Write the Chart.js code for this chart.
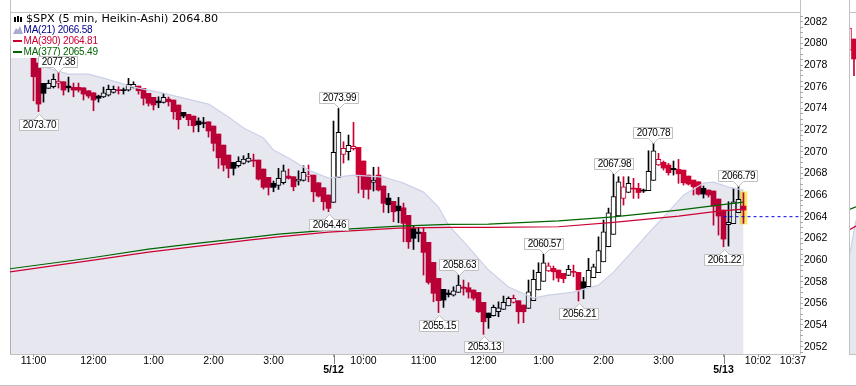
<!DOCTYPE html>
<html>
<head>
<meta charset="utf-8">
<style>
html, body { margin: 0; padding: 0; background: #fff; overflow: hidden; }
#wrap { position: relative; width: 856px; height: 386px; }
canvas { position: absolute; top: 0; }
</style>
<script src="https://cdn.jsdelivr.net/npm/chart.js@4"></script>
</head>
<body>
<div id="wrap">
<canvas id="mainChart" width="856" height="386" style="left:0"></canvas>
<canvas id="nextChart" width="6" height="386" style="left:850px"></canvas>
</div>
<script>
// r = red filled, h = red hollow, b = black filled, w = white hollow
const candleKinds = (
    'rrbwwhrbrr' + 'rrrbwwwrbw' + 'wrrrrbwrrr' + 'brrbbrrrrr' + 'bwwwrrrrbw' +
    'wrrwwhrrrr' + 'wwhwhrrrwr' + 'rbrbrrbbrr' + 'rrbbwwrrrr' + 'rbwwwwhrrw' +
    'wwwhrrrwrr' + 'bwwwwwwwhw' + 'rrbwwhrrbr' + 'rrrrbrrrrw' + 'wwr'
).split('');

const bodyTop = [
    2079.38,2078.19,2076.31,2076.31,2076.68,2076.52,2076.46,2076.06,2075.94,2075.94,
    2075.90,2075.63,2075.44,2075.14,2075.44,2075.76,2075.76,2075.72,2075.72,2076.22,
    2076.22,2076.06,2075.85,2075.39,2075.02,2074.68,2075.02,2074.86,2074.77,2074.31,
    2073.63,2073.45,2073.29,2072.83,2072.69,2072.76,2072.37,2071.63,2070.61,2069.69,
    2069.02,2069.11,2069.32,2069.41,2069.23,2069.23,2068.40,2067.63,2067.08,2067.54,
    2068.24,2067.75,2067.69,2067.45,2068.09,2067.87,2067.84,2067.13,2066.67,2066.00,
    2069.94,2071.79,2070.31,2070.59,2070.49,2070.40,2069.14,2067.84,2067.38,2067.84,
    2066.83,2065.72,2065.41,2064.98,2064.82,2064.12,2062.90,2062.58,2062.55,2061.63,
    2059.78,2058.30,2057.29,2056.95,2057.16,2057.68,2057.50,2057.44,2057.23,2057.00,
    2056.09,2055.10,2055.63,2055.59,2056.09,2056.46,2056.46,2056.24,2055.84,2057.07,
    2058.21,2058.86,2059.74,2059.47,2059.23,2059.07,2058.77,2059.14,2058.95,2058.86,
    2057.99,2059.04,2059.38,2060.87,2062.61,2064.36,2065.86,2067.22,2066.76,2067.08,
    2066.64,2066.62,2066.46,2068.18,2070.09,2069.29,2069.02,2068.77,2068.46,2068.37,
    2068.30,2067.75,2067.38,2067.22,2066.62,2066.46,2066.37,2065.63,2064.61,2063.48,
    2065.38,2065.60,2064.98
];
const bodyBottom = [
    2076.92,2074.40,2075.39,2075.85,2076.00,2076.31,2075.69,2075.90,2075.69,2075.69,
    2075.32,2075.14,2074.77,2074.93,2075.07,2075.23,2075.48,2075.64,2075.64,2075.69,
    2075.94,2075.63,2074.93,2074.47,2074.31,2074.52,2074.56,2074.61,2073.69,2072.95,
    2073.29,2072.95,2072.40,2072.49,2072.60,2071.91,2070.77,2069.44,2068.77,2068.46,
    2068.46,2068.70,2068.92,2069.11,2069.14,2067.47,2066.71,2066.71,2066.71,2066.89,
    2067.13,2067.54,2066.76,2067.29,2067.35,2067.72,2066.30,2065.90,2065.38,2064.77,
    2065.32,2067.63,2069.75,2070.00,2070.27,2067.75,2066.52,2066.52,2067.17,2066.46,
    2065.23,2065.10,2064.45,2064.55,2063.38,2061.68,2062.00,2062.44,2060.70,2057.93,
    2056.92,2056.24,2056.30,2056.81,2056.76,2057.01,2057.38,2057.04,2056.48,2055.22,
    2054.30,2054.67,2054.85,2055.22,2055.44,2055.77,2056.09,2055.22,2055.22,2055.53,
    2056.24,2057.23,2058.03,2058.98,2058.91,2058.33,2058.27,2058.58,2058.86,2057.23,
    2057.38,2057.53,2058.36,2058.84,2059.83,2061.22,2062.37,2064.07,2065.69,2066.25,
    2066.55,2066.23,2066.37,2066.41,2067.35,2068.77,2068.49,2068.06,2068.33,2067.96,
    2067.13,2067.01,2066.76,2066.09,2066.09,2066.00,2064.98,2064.06,2061.93,2063.26,
    2063.35,2064.36,2064.61
];
const wickHigh = [
    2079.85,2078.19,2076.31,2076.61,2077.17,2077.38,2076.46,2076.89,2076.34,2076.34,
    2075.90,2075.63,2075.44,2075.23,2075.97,2076.15,2076.06,2076.00,2075.88,2076.77,
    2076.46,2076.06,2075.85,2075.39,2075.02,2075.07,2075.39,2075.05,2074.77,2074.31,
    2073.63,2073.45,2073.29,2073.13,2073.17,2072.76,2072.37,2071.63,2070.61,2069.69,
    2069.02,2069.53,2069.63,2069.85,2069.78,2069.23,2068.40,2067.63,2067.29,2068.46,
    2068.77,2068.40,2067.69,2068.24,2068.70,2068.77,2067.84,2067.13,2066.67,2066.00,
    2072.83,2073.99,2070.92,2071.54,2072.71,2070.40,2069.14,2067.84,2068.56,2068.58,
    2066.83,2066.15,2065.41,2065.78,2065.26,2064.12,2063.13,2063.01,2063.01,2061.63,
    2059.78,2058.30,2057.29,2057.23,2057.53,2058.63,2058.15,2057.90,2057.23,2057.00,
    2056.09,2055.10,2055.84,2056.14,2056.67,2056.60,2056.76,2056.24,2055.84,2058.15,
    2059.07,2059.74,2060.57,2059.74,2059.44,2059.07,2058.77,2059.51,2059.53,2058.86,
    2058.40,2060.15,2059.62,2062.14,2063.69,2064.79,2067.98,2067.69,2067.69,2067.69,
    2067.54,2067.08,2066.55,2070.09,2070.78,2069.85,2069.14,2068.92,2069.14,2069.29,
    2068.30,2067.75,2067.38,2067.22,2066.83,2066.46,2066.37,2065.63,2064.61,2065.38,
    2066.62,2066.79,2066.21
];
const wickLow = [
    2074.70,2073.70,2074.58,2075.85,2075.88,2075.88,2075.23,2075.51,2075.07,2075.51,
    2074.77,2074.95,2073.78,2074.58,2075.00,2075.14,2075.41,2075.32,2075.32,2075.60,
    2075.88,2075.32,2074.31,2074.22,2073.85,2074.06,2074.49,2074.22,2073.01,2072.09,
    2073.13,2072.40,2071.81,2071.84,2072.21,2071.35,2070.06,2068.46,2068.21,2067.59,
    2067.84,2068.58,2068.86,2069.02,2068.61,2067.38,2066.55,2066.00,2066.30,2066.52,
    2067.01,2067.47,2066.39,2066.92,2067.29,2067.22,2065.38,2065.81,2064.61,2064.46,
    2065.32,2067.63,2068.95,2069.23,2070.15,2066.18,2065.75,2065.63,2066.37,2066.37,
    2064.40,2064.36,2063.53,2063.44,2061.68,2061.07,2060.97,2061.68,2058.61,2057.78,
    2056.14,2055.15,2055.62,2056.58,2056.67,2057.00,2056.76,2056.48,2056.30,2055.15,
    2053.13,2053.69,2054.82,2054.76,2055.44,2055.77,2056.02,2054.15,2054.21,2055.53,
    2056.24,2057.23,2058.03,2058.93,2058.15,2057.99,2057.90,2058.56,2058.45,2056.21,
    2056.42,2057.53,2058.36,2058.84,2059.83,2061.22,2062.37,2064.07,2065.07,2066.21,
    2065.69,2065.69,2066.23,2066.41,2067.35,2068.72,2068.30,2067.84,2067.84,2067.08,
    2066.92,2066.92,2066.00,2066.00,2065.72,2065.81,2063.22,2062.30,2061.22,2061.29,
    2063.35,2064.36,2063.38
];

const ma21Bars = [-4.7,0,2,3.5,7,11,14,20,26,30,35,39,42,46,48,51,55,59,64,70,74,78,81,83,87,91,95,100,103,108,113,116,120,123,126,130,134,136,139,142];
const ma21Values = [
    2079.94,2079.11,2077.91,2077.63,2077.17,2077.17,2076.80,2075.97,2075.41,2074.95,
    2074.40,2073.20,2072.18,2071.26,2070.15,2069.41,2068.30,2067.56,2067.84,2067.66,
    2067.10,2066.27,2064.89,2063.22,2061.19,2059.07,2057.50,2056.48,2056.76,2057.04,
    2057.68,2058.88,2060.91,2062.48,2063.96,2065.99,2067.10,2067.19,2066.73,2066.45
];
const maLongBars = [-4.7,7.3,12,23,33,43,49,59,73,83,91,105,116,129,137,142];
const ma377Values = [2059.19,2059.93,2060.23,2061.01,2061.56,2062.07,2062.39,2062.76,2063.13,2063.29,2063.32,2063.62,2063.99,2064.61,2065.07,2065.35];
const ma390Values = [2058.91,2059.69,2059.99,2060.73,2061.28,2061.84,2062.14,2062.58,2062.95,2063.01,2063.01,2063.07,2063.47,2064.05,2064.52,2064.70];

const lastPriceBars = [138, 153.3];
const lastPriceValues = [2064, 2064];
const highlightBar = 142;
const highlightRange = [2063.32, 2066.30];

const calloutBars = [1, 5, 59, 61, 81, 85, 90, 102, 109, 116, 124, 138, 141];
const calloutValues = [2073.70, 2077.38, 2064.46, 2073.99, 2055.15, 2058.63, 2053.13, 2060.57, 2056.21, 2067.98, 2070.78, 2061.22, 2066.79];
const calloutSides = ['below', 'above', 'below', 'above', 'below', 'above', 'below', 'above', 'below', 'above', 'above', 'below', 'above'];

const xTickBars = [0, 12, 24, 36, 48, 60, 66, 78, 90, 102, 114, 126, 138, 144.9, 151.9];
const xTickLabels = ['11:00', '12:00', '1:00', '2:00', '3:00', ['', '5/12'], '10:00', '11:00', '12:00', '1:00', '2:00', '3:00', ['', '5/13'], '10:02', '10:37'];
const yMin = 2051.32;
const yMax = 2082.9;
const yStep = 0.5;

// the sliver of the next panel at the right edge
const nextKinds = ['h', 'r'];
const nextBodyTop = [2081.42, 2080.40];
const nextBodyBottom = [2079.38, 2078.56];
const nextWickHigh = [2081.42, 2080.40];
const nextWickLow = [2079.38, 2077.01];
const nextMaBars = [0.2, 1.4];
const nextMa21 = [2060.64, 2063.69];
const nextMa377 = [2064.70, 2064.91];
const nextMa390 = [2062.83, 2063.13];

const titleText = '$SPX (5 min, Heikin-Ashi) 2064.80';
const legendLabels = ['MA(21) 2066.58', 'MA(390) 2064.81', 'MA(377) 2065.49'];

const RED = '#cc0033';
const GREEN = '#006400';
const NAVY = '#00008b';
const FRAME = '#c2c2c2';
const AREA_FILL = 'rgba(0,0,96,0.094)';
const AREA_LINE = '#ccd0e8';
const TEXT_FONT = '"Liberation Sans", Arial, sans-serif';
const kindFill = { r: RED, h: '#ffffff', b: '#000000', w: '#ffffff' };
const kindLine = { r: RED, h: RED, b: '#000000', w: '#000000' };

function floatingBars(tops, bottoms) {
    return tops.map((top, i) => ({ x: i, y: [bottoms[i], top] }));
}

function getCandleDatasets(kinds, tops, bottoms, highs, lows) {
    return [
        {
            data: floatingBars(highs, lows),
            order: 8,
            grouped: false,
            barThickness: 1,
            backgroundColor: kinds.map((k) => kindLine[k]),
        },
        {
            data: floatingBars(tops, bottoms),
            order: 7,
            grouped: false,
            barThickness: 5,
            backgroundColor: kinds.map((k) => kindFill[k]),
            borderColor: kinds.map((k) => kindLine[k]),
            borderWidth: kinds.map((k) => (k === 'h' || k === 'w') ? 1 : 0),
            borderSkipped: false,
        },
    ];
}

function getLine(bars, values, color, order) {
    return {
        type: 'line',
        data: bars.map((bar, i) => ({ x: bar, y: values[i] })),
        borderColor: color,
        borderWidth: 1.2,
        pointRadius: 0,
        tension: 0,
        fill: false,
        order: order,
    };
}

function getArea(bars, values) {
    const area = getLine(bars, values, AREA_LINE, 3);
    area.fill = 'start';
    area.backgroundColor = AREA_FILL;
    return area;
}

function drawFrame(chart) {
    const ctx = chart.ctx;
    ctx.save();
    ctx.strokeStyle = FRAME;
    ctx.lineWidth = 1;
    const segments = [
        [10.5, 0, 10.5, 354.5], [10, 12.5, 800, 12.5], [800.5, 0, 800.5, 354.5], [10, 354.5, 800, 354.5],
        [849.5, 0, 849.5, 354.5], [849, 12.5, 856, 12.5], [849, 354.5, 856, 354.5], [0, 385.5, 856, 385.5],
    ];
    segments.forEach((s) => {
        ctx.beginPath();
        ctx.moveTo(s[0], s[1]);
        ctx.lineTo(s[2], s[3]);
        ctx.stroke();
    });
    ctx.restore();
}

function drawCallout(ctx, x, y, text, side) {
    ctx.font = '10px ' + TEXT_FONT;
    ctx.letterSpacing = '-0.4px';
    const w = Math.round(ctx.measureText(text).width) + 6;
    const h = 11;
    const px = Math.round(x) + 0.5;
    const left = px - Math.round(w / 2);
    const tip = Math.round(side === 'above' ? y : y + 2) + 0.5;
    const boxY = side === 'above' ? tip - 5 - h : tip + 5;
    const edge = side === 'above' ? boxY + h : boxY;
    ctx.beginPath();
    ctx.moveTo(left, boxY);
    ctx.lineTo(left + w, boxY);
    ctx.lineTo(left + w, boxY + h);
    if (side === 'above') {
        ctx.lineTo(px + 5, edge);
        ctx.lineTo(px, tip);
        ctx.lineTo(px - 5, edge);
    }
    ctx.lineTo(left, boxY + h);
    ctx.lineTo(left, boxY);
    if (side === 'below') {
        ctx.moveTo(px - 5, edge);
        ctx.lineTo(px, tip);
        ctx.lineTo(px + 5, edge);
    }
    ctx.fillStyle = '#ffffff';
    ctx.fill();
    ctx.strokeStyle = '#c0c0c0';
    ctx.lineWidth = 1;
    ctx.stroke();
    if (side === 'below') {
        ctx.beginPath();
        ctx.moveTo(px - 4, edge);
        ctx.lineTo(px + 4, edge);
        ctx.strokeStyle = '#ffffff';
        ctx.stroke();
    }
    ctx.fillStyle = '#000000';
    ctx.textAlign = 'center';
    ctx.textBaseline = 'middle';
    ctx.fillText(text, px, boxY + h / 2 + 0.5);
    ctx.letterSpacing = '0px';
}

function drawLegend(ctx) {
    ctx.fillStyle = '#ffffff';
    ctx.fillRect(11, 13, 90, 45);
    ctx.textAlign = 'left';
    ctx.textBaseline = 'middle';
    ctx.fillStyle = '#000000';
    ctx.font = '11.2px "DejaVu Sans", sans-serif';
    ctx.fillText(titleText, 26, 19.5);
    ctx.font = '10px ' + TEXT_FONT;
    ctx.letterSpacing = '-0.2px';
    [NAVY, RED, GREEN].forEach((color, i) => {
        ctx.fillStyle = color;
        ctx.fillText(legendLabels[i], 23.5, 30.5 + i * 11);
    });
    ctx.letterSpacing = '0px';
    // little candle icon
    ctx.fillStyle = '#000000';
    [[14, 17, 2, 5], [17, 16, 2, 6], [20, 17, 2, 5]].forEach((r) => ctx.fillRect(r[0], r[1], r[2], r[3]));
    // mountain icon
    ctx.fillStyle = '#a9acd0';
    ctx.beginPath();
    ctx.moveTo(13, 34);
    ctx.lineTo(16, 28);
    ctx.lineTo(18, 30);
    ctx.lineTo(20, 26);
    ctx.lineTo(23, 34);
    ctx.fill();
    ctx.fillStyle = RED;
    ctx.fillRect(13, 40, 9, 2);
    ctx.fillStyle = GREEN;
    ctx.fillRect(13, 51, 9, 2);
}

const mainPlugin = {
    id: 'mainPlugin',
    beforeDraw(chart) {
        drawFrame(chart);
    },
    afterDatasetsDraw(chart) {
        const ctx = chart.ctx;
        ctx.save();
        drawLegend(ctx);
        calloutBars.forEach((bar, i) => {
            drawCallout(ctx, chart.scales.x.getPixelForValue(bar), chart.scales.y.getPixelForValue(calloutValues[i]), calloutValues[i].toFixed(2), calloutSides[i]);
        });
        ctx.restore();
    },
    afterDraw(chart) {
        // date ticks reach down further than the time ticks
        const ctx = chart.ctx;
        ctx.save();
        ctx.strokeStyle = '#808080';
        xTickBars.forEach((bar, i) => {
            if (Array.isArray(xTickLabels[i])) {
                const px = Math.round(chart.scales.x.getPixelForValue(bar)) + 0.5;
                ctx.beginPath();
                ctx.moveTo(px, 355);
                ctx.lineTo(px, 364);
                ctx.stroke();
            }
        });
        ctx.restore();
    },
};

function getYTicks() {
    const ticks = [];
    for (let v = 2051.5; v <= yMax; v += yStep) {
        ticks.push({ value: v });
    }
    return ticks;
}

function getMainConfig() {
    const highlight = {
        data: [{ x: highlightBar, y: highlightRange }],
        order: 9,
        grouped: false,
        barThickness: 7,
        backgroundColor: '#f8ec66',
    };
    const blueLine = getLine(lastPriceBars, lastPriceValues, '#0000e6', 0);
    blueLine.borderDash = [3, 3];
    blueLine.borderWidth = 1;
    return {
        type: 'bar',
        data: {
            datasets: [
                highlight,
                ...getCandleDatasets(candleKinds, bodyTop, bodyBottom, wickHigh, wickLow),
                getArea(ma21Bars, ma21Values),
                getLine(maLongBars, ma390Values, RED, 2),
                getLine(maLongBars, ma377Values, GREEN, 1),
                blueLine,
            ],
        },
        plugins: [mainPlugin],
        options: {
            responsive: false,
            animation: false,
            layout: { padding: { left: 10, top: 12, right: 0, bottom: 0 } },
            plugins: { legend: { display: false }, tooltip: { enabled: false } },
            scales: {
                x: {
                    type: 'linear',
                    offset: false,
                    min: -4.7,
                    max: 153.3,
                    afterFit(scale) { scale.height = 32; },
                    afterBuildTicks(scale) { scale.ticks = xTickBars.map((v) => ({ value: v })); },
                    border: { display: false },
                    grid: { offset: false, drawOnChartArea: false, tickLength: 3, tickColor: '#a0a0a0' },
                    ticks: {
                        autoSkip: false,
                        maxRotation: 0,
                        padding: 0,
                        color: '#000000',
                        font: (ctx) => ({
                            family: TEXT_FONT,
                            size: 10.5,
                            lineHeight: 0.86,
                            weight: Array.isArray(xTickLabels[ctx.index]) ? 'bold' : 'normal',
                        }),
                        callback: (value, i) => xTickLabels[i],
                    },
                },
                y: {
                    position: 'right',
                    min: yMin,
                    max: yMax,
                    afterFit(scale) { scale.width = 56; },
                    afterBuildTicks(scale) { scale.ticks = getYTicks(); },
                    border: { display: false },
                    grid: { drawOnChartArea: false, tickLength: 3, tickColor: '#a8a8a8' },
                    ticks: {
                        autoSkip: false,
                        padding: 1,
                        color: '#000000',
                        font: { family: TEXT_FONT, size: 10.5 },
                        callback: (value) => (value % 2 === 0 ? String(value) : ''),
                    },
                },
            },
        },
    };
}

function getNextConfig() {
    return {
        type: 'bar',
        data: {
            datasets: [
                ...getCandleDatasets(nextKinds, nextBodyTop, nextBodyBottom, nextWickHigh, nextWickLow),
                getArea(nextMaBars, nextMa21),
                getLine(nextMaBars, nextMa390, RED, 2),
                getLine(nextMaBars, nextMa377, GREEN, 1),
            ],
        },
        options: {
            responsive: false,
            animation: false,
            layout: { padding: { left: 0, top: 12, right: 0, bottom: 32 } },
            plugins: { legend: { display: false }, tooltip: { enabled: false } },
            scales: {
                x: { type: 'linear', offset: false, min: 0.2, max: 1.4, display: false, grid: { offset: false } },
                y: { min: yMin, max: yMax, display: false },
            },
        },
    };
}

new Chart(document.getElementById('mainChart'), getMainConfig());
new Chart(document.getElementById('nextChart'), getNextConfig());
</script>
</body>
</html>
